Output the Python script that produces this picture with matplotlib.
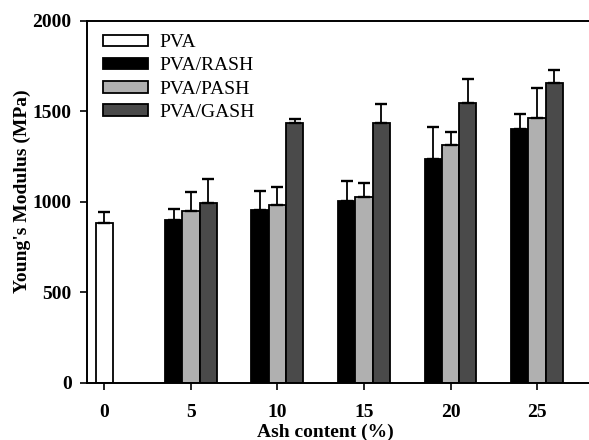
import numpy as np
import matplotlib
matplotlib.use("Agg")
import matplotlib.pyplot as plt

# data (MPa); errors are the upper bars only
ash = [5, 10, 15, 20, 25]
pva_val = 880
pva_err = 62
rash = [900, 954, 1003, 1234, 1399]
rash_err = [57, 104, 111, 178, 86]
pash = [948, 981, 1024, 1314, 1462]
pash_err = [107, 98, 80, 72, 165]
gash = [990, 1432, 1434, 1546, 1655]
gash_err = [133, 26, 105, 129, 73]
labels = ["PVA", "PVA/RASH", "PVA/PASH", "PVA/GASH"]
xticks = [0, 5, 10, 15, 20, 25]

plt.rcParams['font.family'] = ['Liberation Serif', 'DejaVu Serif']

fig = plt.figure(figsize=(5.89, 4.4), dpi=100)
ax = fig.add_axes([0.1477, 0.1302, 0.8523, 0.8232])

w = 1.0
x = np.array(ash, dtype=float)
ekw = dict(ecolor='black', elinewidth=1.3, capsize=4.2, capthick=1.7)
bar_kw = dict(width=w, edgecolor='black', linewidth=1.3)

ax.bar([0], [pva_val], color='white', label=labels[0],
       yerr=[[0], [pva_err]], error_kw=ekw, **bar_kw)
ax.bar(x - w, rash, color='black', label=labels[1],
       yerr=[np.zeros(5), rash_err], error_kw=ekw, **bar_kw)
ax.bar(x, pash, color='#b0b0b0', label=labels[2],
       yerr=[np.zeros(5), pash_err], error_kw=ekw, **bar_kw)
ax.bar(x + w, gash, color='#4a4a4a', label=labels[3],
       yerr=[np.zeros(5), gash_err], error_kw=ekw, **bar_kw)

ax.set_xlim(-1, 28)
ax.set_ylim(0, 2000)
ax.set_xticks(xticks)
ax.set_yticks([0, 500, 1000, 1500, 2000])
ax.tick_params(direction='out', length=5, width=1.2, labelsize=14, pad=6)
ax.tick_params(axis='x', pad=10)
for t in ax.get_xticklabels() + ax.get_yticklabels():
    t.set_fontweight('bold')

ax.spines['right'].set_visible(False)
for s in ['left', 'bottom', 'top']:
    ax.spines[s].set_linewidth(1.4)

ax.set_xlabel("Ash content (%)", fontsize=14, fontweight='bold', labelpad=2)
ax.xaxis.label.set_x(0.474)
ax.set_ylabel("Young's Modulus (MPa)", fontsize=14, fontweight='bold', labelpad=1)
ax.yaxis.label.set_y(0.528)

ax.legend(loc='upper left', bbox_to_anchor=(0.032, 0.962), frameon=False,
          fontsize=14, handlelength=2.3, handleheight=0.55, handletextpad=0.6,
          labelspacing=0.32, borderaxespad=0, borderpad=0)

fig.savefig("out.png", dpi=100)
